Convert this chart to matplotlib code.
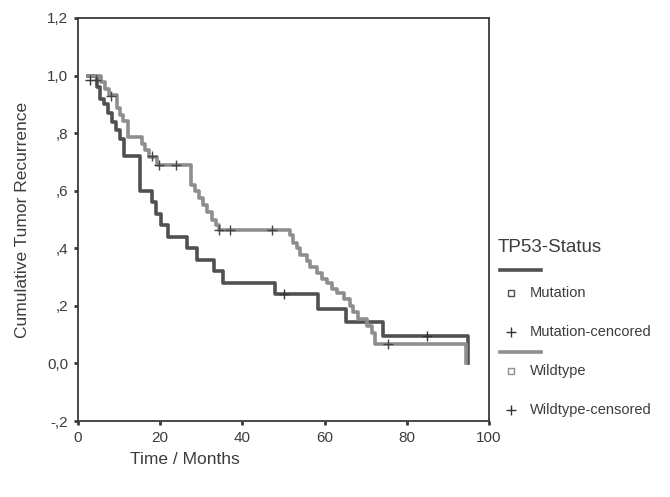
"""Kaplan-Meier style plot of tumor recurrence by TP53 status."""
import matplotlib
matplotlib.use("Agg")
import matplotlib.pyplot as plt
from matplotlib.lines import Line2D

plt.rcParams["font.family"] = ["Liberation Sans", "DejaVu Sans"]

# Mutation group: step curve
MUT_T = [2.5, 4.6, 5.4, 6.4, 7.4, 8.2, 9.2, 10.2, 11.2, 15.0, 18.0, 19.0,
         20.3, 21.8, 26.4, 28.9, 33.1, 35.4, 48.0, 58.4, 65.3, 74.3, 94.8]
MUT_S = [1.0, 0.96, 0.92, 0.90, 0.87, 0.84, 0.81, 0.78, 0.72, 0.60, 0.56, 0.52,
         0.48, 0.44, 0.40, 0.36, 0.32, 0.28, 0.24, 0.19, 0.145, 0.095, 0.0]
MUT_CENS_T = [3.0, 50.1, 85.0]
MUT_CENS_S = [0.985, 0.24, 0.095]

# Wildtype group: step curve
WT_T = [2.5, 5.5, 6.5, 7.5, 9.4, 10.2, 11.0, 12.2, 15.5, 16.3, 17.2, 19.3,
        27.4, 28.5, 29.5, 30.5, 31.5, 32.5, 33.5, 34.3,
        51.5, 52.4, 53.2, 54.0, 55.6, 56.4, 58.1, 59.3, 60.5, 61.7, 62.9,
        64.6, 66.2, 67.0, 68.2, 70.2, 71.5, 72.3, 94.3]
WT_S = [1.0, 0.977, 0.955, 0.932, 0.886, 0.864, 0.841, 0.787, 0.764, 0.741,
        0.718, 0.69, 0.62, 0.60, 0.575, 0.55, 0.525, 0.50, 0.48, 0.465,
        0.445, 0.42, 0.40, 0.375, 0.355, 0.335, 0.315, 0.295, 0.28, 0.26,
        0.245, 0.225, 0.20, 0.18, 0.155, 0.13, 0.105, 0.068, 0.0]
WT_CENS_T = [4.3, 8.0, 17.9, 19.8, 23.8, 34.3, 37.0, 47.3, 75.5]
WT_CENS_S = [0.985, 0.93, 0.72, 0.69, 0.69, 0.465, 0.465, 0.465, 0.068]

Y_TICKS = [-0.2, 0.0, 0.2, 0.4, 0.6, 0.8, 1.0, 1.2]
Y_LABELS = ["-,2", "0,0", ",2", ",4", ",6", ",8", "1,0", "1,2"]
X_TICKS = [0, 20, 40, 60, 80, 100]

DARK = "#505050"
LIGHT = "#8e8e8e"
AXC = "#3a3a3a"
TXT = "#3c3c3c"


def main():
    fig = plt.figure(figsize=(6.7, 4.97), dpi=100)
    ax = fig.add_axes([0.1164, 0.1529, 0.6135, 0.8109])

    ax.step(MUT_T, MUT_S, where="post", color=DARK, lw=2.6)
    ax.step(WT_T, WT_S, where="post", color=LIGHT, lw=2.6)
    ax.plot(MUT_CENS_T, MUT_CENS_S, ls="none", marker="+", ms=7, mew=1.0,
            color="#333333")
    ax.plot(WT_CENS_T, WT_CENS_S, ls="none", marker="+", ms=7, mew=1.0,
            color="#444444")

    ax.set_xlim(0, 100)
    ax.set_ylim(-0.2, 1.2)
    ax.set_xticks(X_TICKS)
    ax.set_yticks(Y_TICKS)
    ax.set_yticklabels(Y_LABELS)
    ax.tick_params(length=3, width=2, color=AXC, labelsize=11,
                   labelcolor=TXT, pad=4)
    for sp in ax.spines.values():
        sp.set_color(AXC)
        sp.set_linewidth(1.3)

    ax.set_ylabel("Cumulative Tumor Recurrence", fontsize=12.5, color=TXT,
                  labelpad=12)
    fig.text(130 / 670, 1 - 459 / 497, "Time / Months", fontsize=12.5,
             color=TXT, ha="left", va="center")

    # legend, drawn in figure pixel coordinates
    def fx(px):
        return px / 670

    def fy(py):
        return 1 - py / 497

    fig.text(fx(498), fy(248), "TP53-Status", fontsize=13.5, color=TXT,
             ha="left", va="center")
    fig.add_artist(Line2D([fx(500), fx(541)], [fy(270), fy(270)],
                          color=DARK, lw=2.6))
    fig.add_artist(Line2D([fx(500), fx(541)], [fy(352), fy(352)],
                          color=LIGHT, lw=2.6))
    entries = [
        (293, "s", "Mutation", DARK),
        (332, "+", "Mutation-cencored", "#333333"),
        (371, "s", "Wildtype", LIGHT),
        (410, "+", "Wildtype-censored", "#333333"),
    ]
    for py, mk, label, col in entries:
        if mk == "s":
            fig.add_artist(Line2D([fx(511)], [fy(py)], ls="none", marker="s",
                                  ms=4.5, mfc="white", mec=col, mew=1.0))
        else:
            fig.add_artist(Line2D([fx(511)], [fy(py)], ls="none", marker="+",
                                  ms=7, mew=1.0, color=col))
        fig.text(fx(530), fy(py), label, fontsize=10.5, color=TXT,
                 ha="left", va="center")

    fig.savefig("out.png", dpi=100, facecolor="white")


if __name__ == "__main__":
    main()
